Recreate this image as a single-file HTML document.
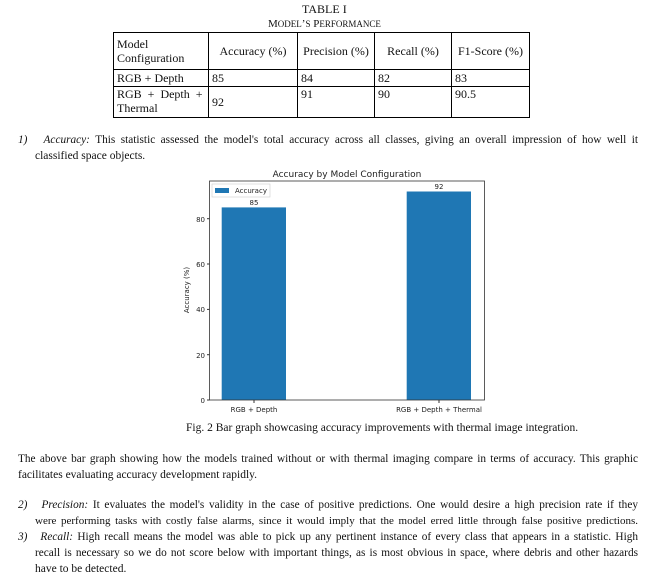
<!DOCTYPE html>
<html><head><meta charset="utf-8"><style>
body{margin:0;width:662px;height:577px;background:#fff;position:relative;font-family:"Liberation Serif",serif;font-size:12px;color:#111;overflow:hidden}
.t{position:absolute;white-space:nowrap;line-height:14px;font-size:11.5px}
.j{position:absolute;text-align:justify;text-align-last:justify;white-space:nowrap;line-height:14px;font-size:11.3px}
table{position:absolute;left:113px;top:32px;border-collapse:collapse;font-size:12px}
td{border:1px solid #000;padding:0 3px;line-height:14px;vertical-align:middle}
</style></head><body>
<div class="t" style="left:302px;top:2px;font-size:12px">TABLE I</div>
<div class="t" style="left:268px;top:17px;font-size:11px">M<span style="font-size:9px">ODEL</span>’<span style="font-size:9px">S</span> P<span style="font-size:9px">ERFORMANCE</span></div>
<table>
<tr style="height:37px"><td style="width:88px">Model<br>Configuration</td><td style="width:82px;text-align:center">Accuracy (%)</td><td style="width:70px;text-align:center">Precision (%)</td><td style="width:70px;text-align:center">Recall (%)</td><td style="width:71px;text-align:center">F1-Score (%)</td></tr>
<tr style="height:17px"><td>RGB + Depth</td><td>85</td><td>84</td><td>82</td><td>83</td></tr>
<tr style="height:31px"><td style="vertical-align:top">RGB&nbsp; +&nbsp; Depth&nbsp; +<br>Thermal</td><td>92</td><td style="vertical-align:top">91</td><td style="vertical-align:top">90</td><td style="vertical-align:top">90.5</td></tr>
</table>
<div class="j" style="left:18px;top:133px;width:620px"><i>1)&nbsp;&nbsp; Accuracy:</i> This statistic assessed the model's total accuracy across all classes, giving an overall impression of how well it</div>
<div class="t" style="left:35px;top:149px">classified space objects.</div>
<svg style="position:absolute;left:0;top:0" width="662" height="577">
<g font-family="DejaVu Sans, sans-serif" font-size="8" fill="#222">
<text x="347" y="177" text-anchor="middle" font-size="9">Accuracy by Model Configuration</text>
<rect x="221.7" y="207.4" width="64.3" height="192.6" fill="#1f77b4"/>
<rect x="406.7" y="191.5" width="64.3" height="208.5" fill="#1f77b4"/>
<rect x="209.5" y="181" width="275" height="219" fill="none" stroke="#333" stroke-width="0.8"/>
<text x="254" y="205" text-anchor="middle" font-size="7">85</text>
<text x="439" y="189" text-anchor="middle" font-size="7">92</text>
<rect x="212" y="184" width="58" height="13" fill="#fff" stroke="#ccc" stroke-width="0.6"/>
<rect x="215" y="188" width="14" height="5" fill="#1f77b4"/>
<text x="235" y="193" font-size="7">Accuracy</text>
<g font-size="7" text-anchor="end">
<text x="205" y="403">0</text><line x1="207" x2="209.5" y1="400" y2="400" stroke="#333"/>
<text x="205" y="358">20</text><line x1="207" x2="209.5" y1="354.7" y2="354.7" stroke="#333"/>
<text x="205" y="312">40</text><line x1="207" x2="209.5" y1="309.4" y2="309.4" stroke="#333"/>
<text x="205" y="267">60</text><line x1="207" x2="209.5" y1="264" y2="264" stroke="#333"/>
<text x="205" y="222">80</text><line x1="207" x2="209.5" y1="218.7" y2="218.7" stroke="#333"/>
</g>
<text transform="translate(189,290) rotate(-90)" text-anchor="middle" font-size="7">Accuracy (%)</text>
<line x1="254" x2="254" y1="400" y2="403" stroke="#333"/>
<line x1="439" x2="439" y1="400" y2="403" stroke="#333"/>
<text x="254" y="412" text-anchor="middle" font-size="7">RGB + Depth</text>
<text x="439" y="412" text-anchor="middle" font-size="7">RGB + Depth + Thermal</text>
</g></svg>
<div class="t" style="left:186px;top:421px">Fig. 2 Bar graph showcasing accuracy improvements with thermal image integration.</div>
<div class="j" style="left:18px;top:452px;width:620px">The above bar graph showing how the models trained without or with thermal imaging compare in terms of accuracy. This graphic</div>
<div class="t" style="left:18px;top:468px">facilitates evaluating accuracy development rapidly.</div>
<div class="j" style="left:18px;top:498px;width:620px"><i>2)&nbsp;&nbsp; Precision:</i> It evaluates the model's validity in the case of positive predictions. One would desire a high precision rate if they</div>
<div class="j" style="left:35px;top:514px;width:603px;font-size:11px">were performing tasks with costly false alarms, since it would imply that the model erred little through false positive predictions.</div>
<div class="j" style="left:18px;top:530px;width:620px"><i>3)&nbsp;&nbsp; Recall:</i> High recall means the model was able to pick up any pertinent instance of every class that appears in a statistic. High</div>
<div class="j" style="left:35px;top:546px;width:603px">recall is necessary so we do not score below with important things, as is most obvious in space, where debris and other hazards</div>
<div class="t" style="left:35px;top:562px">have to be detected.</div>
</body></html>
